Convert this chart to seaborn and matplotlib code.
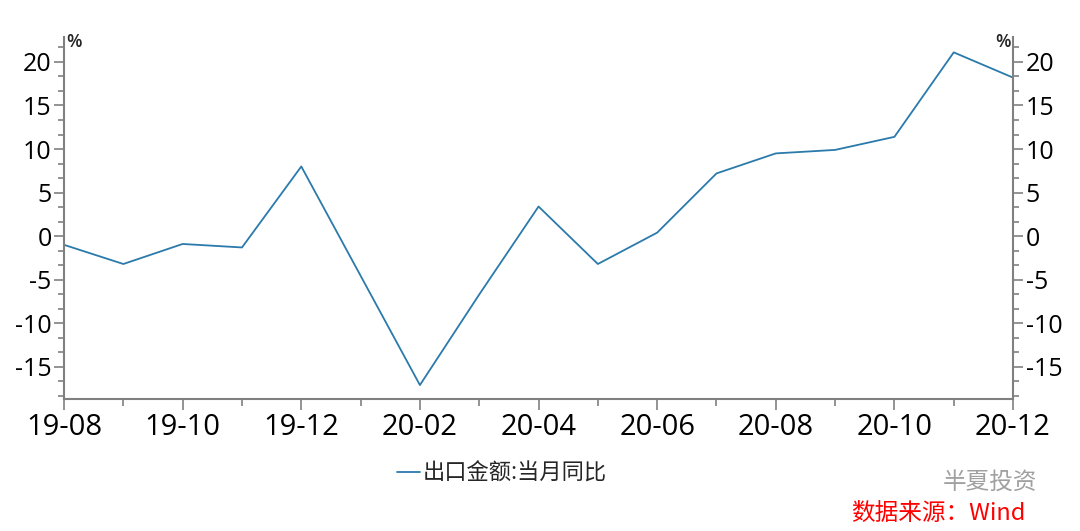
import numpy as np
import pandas as pd
import matplotlib
matplotlib.use("Agg")
import matplotlib.pyplot as plt
from matplotlib.ticker import MultipleLocator, FixedLocator
import seaborn as sns

# monthly export value, yoy %  (Jan+Feb 2020 reported together as 20-02)
months = ["2019-08", "2019-09", "2019-10", "2019-11", "2019-12", "2020-02", "2020-03",
          "2020-04", "2020-05", "2020-06", "2020-07", "2020-08", "2020-09", "2020-10",
          "2020-11", "2020-12"]
export_yoy = [-1.0, -3.2, -0.9, -1.3, 8.0, -17.1, -6.7, 3.4, -3.2, 0.4, 7.2, 9.5, 9.9,
              11.4, 21.1, 18.2]
series_name = "出口金额:当月同比"

dt = pd.to_datetime(months)
month_idx = (dt.year * 12 + dt.month) - (dt[0].year * 12 + dt[0].month)
df = pd.DataFrame({"m": month_idx, "v": export_yoy})

all_months = pd.period_range(dt[0], dt[-1], freq="M")
tick_labels = [p.strftime("%y-%m") for p in all_months]

sns.set_style("ticks")
plt.rcParams["font.family"] = ["Open Sans", "Noto Sans CJK SC", "DejaVu Sans"]
plt.rcParams["axes.unicode_minus"] = False

line_col = "#2a7aab"
spine_col = "#808080"

fig = plt.figure(figsize=(10.8, 5.31), dpi=100)
ax = fig.add_axes([0.0593, 0.2486, 0.8787, 0.6823])
sns.lineplot(data=df, x="m", y="v", ax=ax, color=line_col, linewidth=1.3,
             label=series_name, legend=False)

ylim = (-18.7, 22.9)
ax.set_xlim(0, len(all_months) - 1)
ax.set_ylim(*ylim)
ax.set_xlabel("")
ax.set_ylabel("")

ax.xaxis.set_major_locator(FixedLocator(range(0, len(all_months), 2)))
ax.set_xticklabels(tick_labels[::2])
ax.xaxis.set_minor_locator(MultipleLocator(1))
ax.yaxis.set_major_locator(MultipleLocator(5))
ax.yaxis.set_minor_locator(MultipleLocator(5 / 3))

ax2 = ax.twinx()
ax2.set_ylim(*ylim)
ax2.yaxis.set_major_locator(MultipleLocator(5))
ax2.yaxis.set_minor_locator(MultipleLocator(5 / 3))

for a in (ax, ax2):
    for s in a.spines.values():
        s.set_color(spine_col)
        s.set_linewidth(1.5)
    a.spines["top"].set_visible(False)
    a.tick_params(axis="y", which="major", length=7, width=1.2, color=spine_col,
                  labelsize=18, labelcolor="black", pad=2)
    a.tick_params(axis="y", which="minor", length=4, width=1.2, color=spine_col)
ax.spines["right"].set_visible(False)
ax2.spines["left"].set_visible(False)
ax2.spines["bottom"].set_visible(False)
ax.tick_params(axis="x", which="major", length=8, width=1.2, color=spine_col,
               labelsize=21, labelcolor="black", pad=2)
ax.tick_params(axis="x", which="minor", length=5, width=1.2, color=spine_col)

ax.text(0.002, 1.01, "%", transform=ax.transAxes, ha="left", va="top",
        fontsize=13, fontweight="semibold")
ax.text(0.998, 1.01, "%", transform=ax.transAxes, ha="right", va="top",
        fontsize=13, fontweight="semibold")

h, l = ax.get_legend_handles_labels()
fig.legend(h, l, loc="center", bbox_to_anchor=(0.465, 0.109), frameon=False,
           handlelength=1.0, handletextpad=0.15,
           prop={"family": ["Noto Sans CJK SC"], "size": 16})

fig.text(0.873, 0.092, "半夏投资", fontsize=17, color="#a0a0a0", ha="left", va="center",
         family=["Noto Sans CJK SC"])
fig.text(0.788, 0.033, "数据来源：Wind", fontsize=17, color="red", ha="left",
         va="center", style="italic", family=["Noto Sans CJK SC", "DejaVu Sans"])

fig.savefig("out.png", dpi=100)
